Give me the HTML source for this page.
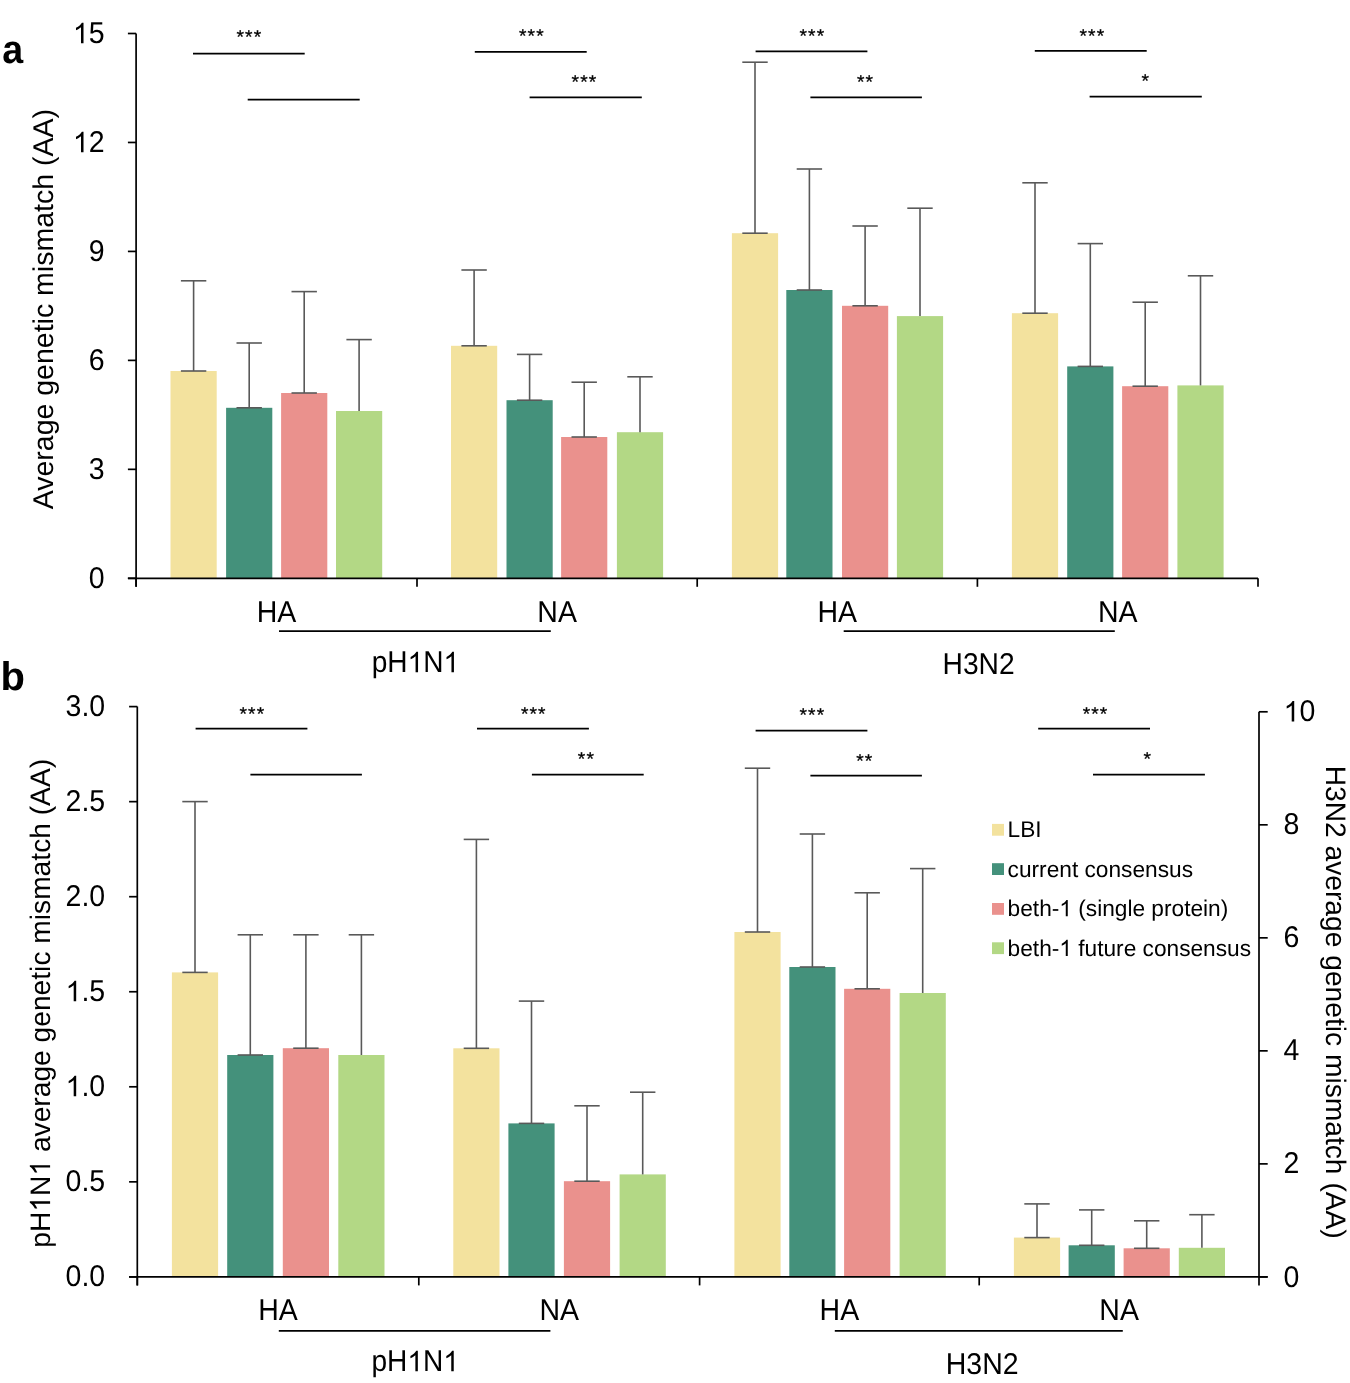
<!DOCTYPE html>
<html><head><meta charset="utf-8"><style>
html,body{margin:0;padding:0;background:#fff;}
body{width:1350px;height:1383px;overflow:hidden;font-family:"Liberation Sans",sans-serif;}
svg{display:block;will-change:transform;}
text{text-rendering:geometricPrecision;}
</style></head><body>
<svg width="1350" height="1383" viewBox="0 0 1350 1383" font-family='"Liberation Sans", sans-serif'>
<rect width="1350" height="1383" fill="#fff"/>
<rect x="170.50" y="371.00" width="46.20" height="207.30" fill="#F3E29E"/>
<rect x="226.10" y="407.80" width="46.20" height="170.50" fill="#44917B"/>
<rect x="281.10" y="393.00" width="46.20" height="185.30" fill="#EA918D"/>
<rect x="336.00" y="411.00" width="46.20" height="167.30" fill="#B3D885"/>
<rect x="451.00" y="345.80" width="46.20" height="232.50" fill="#F3E29E"/>
<rect x="506.50" y="400.20" width="46.20" height="178.10" fill="#44917B"/>
<rect x="561.10" y="437.00" width="46.20" height="141.30" fill="#EA918D"/>
<rect x="616.90" y="432.20" width="46.20" height="146.10" fill="#B3D885"/>
<rect x="731.90" y="233.20" width="46.20" height="345.10" fill="#F3E29E"/>
<rect x="786.30" y="290.00" width="46.20" height="288.30" fill="#44917B"/>
<rect x="842.00" y="305.80" width="46.20" height="272.50" fill="#EA918D"/>
<rect x="896.90" y="316.10" width="46.20" height="262.20" fill="#B3D885"/>
<rect x="1011.90" y="313.20" width="46.20" height="265.10" fill="#F3E29E"/>
<rect x="1067.20" y="366.40" width="46.20" height="211.90" fill="#44917B"/>
<rect x="1122.10" y="386.20" width="46.20" height="192.10" fill="#EA918D"/>
<rect x="1177.40" y="385.40" width="46.20" height="192.90" fill="#B3D885"/>
<line x1="193.60" y1="280.80" x2="193.60" y2="371.00" stroke="#595959" stroke-width="1.6"/>
<line x1="180.90" y1="280.80" x2="206.30" y2="280.80" stroke="#595959" stroke-width="1.6"/>
<line x1="180.90" y1="371.00" x2="206.30" y2="371.00" stroke="#595959" stroke-width="1.6"/>
<line x1="249.20" y1="343.00" x2="249.20" y2="407.80" stroke="#595959" stroke-width="1.6"/>
<line x1="236.50" y1="343.00" x2="261.90" y2="343.00" stroke="#595959" stroke-width="1.6"/>
<line x1="236.50" y1="407.80" x2="261.90" y2="407.80" stroke="#595959" stroke-width="1.6"/>
<line x1="304.20" y1="291.60" x2="304.20" y2="393.00" stroke="#595959" stroke-width="1.6"/>
<line x1="291.50" y1="291.60" x2="316.90" y2="291.60" stroke="#595959" stroke-width="1.6"/>
<line x1="291.50" y1="393.00" x2="316.90" y2="393.00" stroke="#595959" stroke-width="1.6"/>
<line x1="359.10" y1="339.60" x2="359.10" y2="411.00" stroke="#595959" stroke-width="1.6"/>
<line x1="346.40" y1="339.60" x2="371.80" y2="339.60" stroke="#595959" stroke-width="1.6"/>
<line x1="474.10" y1="270.00" x2="474.10" y2="345.80" stroke="#595959" stroke-width="1.6"/>
<line x1="461.40" y1="270.00" x2="486.80" y2="270.00" stroke="#595959" stroke-width="1.6"/>
<line x1="461.40" y1="345.80" x2="486.80" y2="345.80" stroke="#595959" stroke-width="1.6"/>
<line x1="529.60" y1="354.40" x2="529.60" y2="400.20" stroke="#595959" stroke-width="1.6"/>
<line x1="516.90" y1="354.40" x2="542.30" y2="354.40" stroke="#595959" stroke-width="1.6"/>
<line x1="516.90" y1="400.20" x2="542.30" y2="400.20" stroke="#595959" stroke-width="1.6"/>
<line x1="584.20" y1="382.20" x2="584.20" y2="437.00" stroke="#595959" stroke-width="1.6"/>
<line x1="571.50" y1="382.20" x2="596.90" y2="382.20" stroke="#595959" stroke-width="1.6"/>
<line x1="571.50" y1="437.00" x2="596.90" y2="437.00" stroke="#595959" stroke-width="1.6"/>
<line x1="640.00" y1="376.80" x2="640.00" y2="432.20" stroke="#595959" stroke-width="1.6"/>
<line x1="627.30" y1="376.80" x2="652.70" y2="376.80" stroke="#595959" stroke-width="1.6"/>
<line x1="755.00" y1="62.20" x2="755.00" y2="233.20" stroke="#595959" stroke-width="1.6"/>
<line x1="742.30" y1="62.20" x2="767.70" y2="62.20" stroke="#595959" stroke-width="1.6"/>
<line x1="742.30" y1="233.20" x2="767.70" y2="233.20" stroke="#595959" stroke-width="1.6"/>
<line x1="809.40" y1="169.00" x2="809.40" y2="290.00" stroke="#595959" stroke-width="1.6"/>
<line x1="796.70" y1="169.00" x2="822.10" y2="169.00" stroke="#595959" stroke-width="1.6"/>
<line x1="796.70" y1="290.00" x2="822.10" y2="290.00" stroke="#595959" stroke-width="1.6"/>
<line x1="865.10" y1="226.00" x2="865.10" y2="305.80" stroke="#595959" stroke-width="1.6"/>
<line x1="852.40" y1="226.00" x2="877.80" y2="226.00" stroke="#595959" stroke-width="1.6"/>
<line x1="852.40" y1="305.80" x2="877.80" y2="305.80" stroke="#595959" stroke-width="1.6"/>
<line x1="920.00" y1="208.20" x2="920.00" y2="316.10" stroke="#595959" stroke-width="1.6"/>
<line x1="907.30" y1="208.20" x2="932.70" y2="208.20" stroke="#595959" stroke-width="1.6"/>
<line x1="1035.00" y1="182.80" x2="1035.00" y2="313.20" stroke="#595959" stroke-width="1.6"/>
<line x1="1022.30" y1="182.80" x2="1047.70" y2="182.80" stroke="#595959" stroke-width="1.6"/>
<line x1="1022.30" y1="313.20" x2="1047.70" y2="313.20" stroke="#595959" stroke-width="1.6"/>
<line x1="1090.30" y1="243.60" x2="1090.30" y2="366.40" stroke="#595959" stroke-width="1.6"/>
<line x1="1077.60" y1="243.60" x2="1103.00" y2="243.60" stroke="#595959" stroke-width="1.6"/>
<line x1="1077.60" y1="366.40" x2="1103.00" y2="366.40" stroke="#595959" stroke-width="1.6"/>
<line x1="1145.20" y1="302.20" x2="1145.20" y2="386.20" stroke="#595959" stroke-width="1.6"/>
<line x1="1132.50" y1="302.20" x2="1157.90" y2="302.20" stroke="#595959" stroke-width="1.6"/>
<line x1="1132.50" y1="386.20" x2="1157.90" y2="386.20" stroke="#595959" stroke-width="1.6"/>
<line x1="1200.50" y1="275.80" x2="1200.50" y2="385.40" stroke="#595959" stroke-width="1.6"/>
<line x1="1187.80" y1="275.80" x2="1213.20" y2="275.80" stroke="#595959" stroke-width="1.6"/>
<line x1="136.10" y1="33.50" x2="136.10" y2="586.80" stroke="#000" stroke-width="1.7"/>
<line x1="127.90" y1="578.30" x2="136.10" y2="578.30" stroke="#000" stroke-width="1.7"/>
<text transform="translate(104.60,588.00) scale(1.0,1.055)" font-size="28.5" text-anchor="end" fill="#000">0</text>
<line x1="127.90" y1="469.34" x2="136.10" y2="469.34" stroke="#000" stroke-width="1.7"/>
<text transform="translate(104.60,479.04) scale(1.0,1.055)" font-size="28.5" text-anchor="end" fill="#000">3</text>
<line x1="127.90" y1="360.38" x2="136.10" y2="360.38" stroke="#000" stroke-width="1.7"/>
<text transform="translate(104.60,370.08) scale(1.0,1.055)" font-size="28.5" text-anchor="end" fill="#000">6</text>
<line x1="127.90" y1="251.42" x2="136.10" y2="251.42" stroke="#000" stroke-width="1.7"/>
<text transform="translate(104.60,261.12) scale(1.0,1.055)" font-size="28.5" text-anchor="end" fill="#000">9</text>
<line x1="127.90" y1="142.46" x2="136.10" y2="142.46" stroke="#000" stroke-width="1.7"/>
<text id="t1_0" transform="translate(104.60,152.16) scale(1.0,1.055)" font-size="28.5" text-anchor="end" fill="#000">12</text>
<line x1="127.90" y1="33.50" x2="136.10" y2="33.50" stroke="#000" stroke-width="1.7"/>
<text id="t1_1" transform="translate(104.60,43.20) scale(1.0,1.055)" font-size="28.5" text-anchor="end" fill="#000">15</text>
<line x1="127.90" y1="578.30" x2="1258.00" y2="578.30" stroke="#000" stroke-width="1.7"/>
<line x1="136.10" y1="578.30" x2="136.10" y2="586.80" stroke="#000" stroke-width="1.7"/>
<line x1="417.00" y1="578.30" x2="417.00" y2="586.80" stroke="#000" stroke-width="1.7"/>
<line x1="697.20" y1="578.30" x2="697.20" y2="586.80" stroke="#000" stroke-width="1.7"/>
<line x1="977.40" y1="578.30" x2="977.40" y2="586.80" stroke="#000" stroke-width="1.7"/>
<line x1="1258.00" y1="578.30" x2="1258.00" y2="586.80" stroke="#000" stroke-width="1.7"/>
<text transform="translate(276.55,622.40) scale(1.0,1.055)" font-size="28.5" text-anchor="middle" fill="#000">HA</text>
<text transform="translate(557.10,622.40) scale(1.0,1.055)" font-size="28.5" text-anchor="middle" fill="#000">NA</text>
<text transform="translate(837.30,622.40) scale(1.0,1.055)" font-size="28.5" text-anchor="middle" fill="#000">HA</text>
<text transform="translate(1117.70,622.40) scale(1.0,1.055)" font-size="28.5" text-anchor="middle" fill="#000">NA</text>
<line x1="279.00" y1="631.10" x2="550.80" y2="631.10" stroke="#000" stroke-width="1.7"/>
<line x1="843.70" y1="631.10" x2="1114.80" y2="631.10" stroke="#000" stroke-width="1.7"/>
<text id="t1_2" transform="translate(415.40,672.30) scale(0.985,1.055)" font-size="28.5" text-anchor="middle" fill="#000">pH1N1</text>
<text transform="translate(978.60,674.30) scale(0.99,1.055)" font-size="28.5" text-anchor="middle" fill="#000">H3N2</text>
<text transform="translate(53.00,309.20) rotate(-90)" font-size="28.5" text-anchor="middle" fill="#000">Average genetic mismatch (AA)</text>
<text transform="translate(2.20,63.40) scale(0.94,1.0)" font-size="40" text-anchor="start" font-weight="bold" fill="#000">a</text>
<line x1="193.00" y1="53.60" x2="304.70" y2="53.60" stroke="#000" stroke-width="1.8"/>
<text transform="translate(240.25,43.18) scale(1.0,0.96)" font-size="19.2" text-anchor="middle" fill="#000" stroke="#000" stroke-width="0.3">*</text>
<text transform="translate(248.85,43.18) scale(1.0,0.96)" font-size="19.2" text-anchor="middle" fill="#000" stroke="#000" stroke-width="0.3">*</text>
<text transform="translate(257.45,43.18) scale(1.0,0.96)" font-size="19.2" text-anchor="middle" fill="#000" stroke="#000" stroke-width="0.3">*</text>
<line x1="247.70" y1="99.60" x2="359.70" y2="99.60" stroke="#000" stroke-width="1.8"/>
<line x1="474.80" y1="51.90" x2="586.70" y2="51.90" stroke="#000" stroke-width="1.8"/>
<text transform="translate(522.70,42.18) scale(1.0,0.96)" font-size="19.2" text-anchor="middle" fill="#000" stroke="#000" stroke-width="0.3">*</text>
<text transform="translate(531.30,42.18) scale(1.0,0.96)" font-size="19.2" text-anchor="middle" fill="#000" stroke="#000" stroke-width="0.3">*</text>
<text transform="translate(539.90,42.18) scale(1.0,0.96)" font-size="19.2" text-anchor="middle" fill="#000" stroke="#000" stroke-width="0.3">*</text>
<line x1="529.60" y1="97.30" x2="641.80" y2="97.30" stroke="#000" stroke-width="1.8"/>
<text transform="translate(575.30,87.78) scale(1.0,0.96)" font-size="19.2" text-anchor="middle" fill="#000" stroke="#000" stroke-width="0.3">*</text>
<text transform="translate(583.90,87.78) scale(1.0,0.96)" font-size="19.2" text-anchor="middle" fill="#000" stroke="#000" stroke-width="0.3">*</text>
<text transform="translate(592.50,87.78) scale(1.0,0.96)" font-size="19.2" text-anchor="middle" fill="#000" stroke="#000" stroke-width="0.3">*</text>
<line x1="755.60" y1="51.40" x2="867.40" y2="51.40" stroke="#000" stroke-width="1.8"/>
<text transform="translate(803.25,41.88) scale(1.0,0.96)" font-size="19.2" text-anchor="middle" fill="#000" stroke="#000" stroke-width="0.3">*</text>
<text transform="translate(811.85,41.88) scale(1.0,0.96)" font-size="19.2" text-anchor="middle" fill="#000" stroke="#000" stroke-width="0.3">*</text>
<text transform="translate(820.45,41.88) scale(1.0,0.96)" font-size="19.2" text-anchor="middle" fill="#000" stroke="#000" stroke-width="0.3">*</text>
<line x1="810.40" y1="97.30" x2="921.90" y2="97.30" stroke="#000" stroke-width="1.8"/>
<text transform="translate(860.65,87.78) scale(1.0,0.96)" font-size="19.2" text-anchor="middle" fill="#000" stroke="#000" stroke-width="0.3">*</text>
<text transform="translate(869.25,87.78) scale(1.0,0.96)" font-size="19.2" text-anchor="middle" fill="#000" stroke="#000" stroke-width="0.3">*</text>
<line x1="1034.80" y1="50.80" x2="1146.70" y2="50.80" stroke="#000" stroke-width="1.8"/>
<text transform="translate(1083.25,41.88) scale(1.0,0.96)" font-size="19.2" text-anchor="middle" fill="#000" stroke="#000" stroke-width="0.3">*</text>
<text transform="translate(1091.85,41.88) scale(1.0,0.96)" font-size="19.2" text-anchor="middle" fill="#000" stroke="#000" stroke-width="0.3">*</text>
<text transform="translate(1100.45,41.88) scale(1.0,0.96)" font-size="19.2" text-anchor="middle" fill="#000" stroke="#000" stroke-width="0.3">*</text>
<line x1="1089.60" y1="96.70" x2="1201.80" y2="96.70" stroke="#000" stroke-width="1.8"/>
<text transform="translate(1145.25,87.18) scale(1.0,0.96)" font-size="19.2" text-anchor="middle" fill="#000" stroke="#000" stroke-width="0.3">*</text>
<rect x="171.90" y="972.40" width="46.20" height="304.50" fill="#F3E29E"/>
<rect x="227.20" y="1055.00" width="46.20" height="221.90" fill="#44917B"/>
<rect x="282.80" y="1048.20" width="46.20" height="228.70" fill="#EA918D"/>
<rect x="338.30" y="1055.00" width="46.20" height="221.90" fill="#B3D885"/>
<rect x="453.30" y="1048.30" width="46.20" height="228.60" fill="#F3E29E"/>
<rect x="508.40" y="1123.40" width="46.20" height="153.50" fill="#44917B"/>
<rect x="563.90" y="1181.20" width="46.20" height="95.70" fill="#EA918D"/>
<rect x="619.60" y="1174.40" width="46.20" height="102.50" fill="#B3D885"/>
<rect x="734.40" y="932.00" width="46.20" height="344.90" fill="#F3E29E"/>
<rect x="789.30" y="967.00" width="46.20" height="309.90" fill="#44917B"/>
<rect x="844.10" y="988.80" width="46.20" height="288.10" fill="#EA918D"/>
<rect x="899.60" y="993.00" width="46.20" height="283.90" fill="#B3D885"/>
<rect x="1013.90" y="1237.60" width="46.20" height="39.30" fill="#F3E29E"/>
<rect x="1068.60" y="1245.30" width="46.20" height="31.60" fill="#44917B"/>
<rect x="1123.60" y="1248.30" width="46.20" height="28.60" fill="#EA918D"/>
<rect x="1178.80" y="1247.80" width="46.20" height="29.10" fill="#B3D885"/>
<line x1="195.00" y1="801.60" x2="195.00" y2="972.40" stroke="#595959" stroke-width="1.6"/>
<line x1="182.30" y1="801.60" x2="207.70" y2="801.60" stroke="#595959" stroke-width="1.6"/>
<line x1="182.30" y1="972.40" x2="207.70" y2="972.40" stroke="#595959" stroke-width="1.6"/>
<line x1="250.30" y1="934.80" x2="250.30" y2="1055.00" stroke="#595959" stroke-width="1.6"/>
<line x1="237.60" y1="934.80" x2="263.00" y2="934.80" stroke="#595959" stroke-width="1.6"/>
<line x1="237.60" y1="1055.00" x2="263.00" y2="1055.00" stroke="#595959" stroke-width="1.6"/>
<line x1="305.90" y1="934.80" x2="305.90" y2="1048.20" stroke="#595959" stroke-width="1.6"/>
<line x1="293.20" y1="934.80" x2="318.60" y2="934.80" stroke="#595959" stroke-width="1.6"/>
<line x1="293.20" y1="1048.20" x2="318.60" y2="1048.20" stroke="#595959" stroke-width="1.6"/>
<line x1="361.40" y1="934.80" x2="361.40" y2="1055.00" stroke="#595959" stroke-width="1.6"/>
<line x1="348.70" y1="934.80" x2="374.10" y2="934.80" stroke="#595959" stroke-width="1.6"/>
<line x1="476.40" y1="839.40" x2="476.40" y2="1048.30" stroke="#595959" stroke-width="1.6"/>
<line x1="463.70" y1="839.40" x2="489.10" y2="839.40" stroke="#595959" stroke-width="1.6"/>
<line x1="463.70" y1="1048.30" x2="489.10" y2="1048.30" stroke="#595959" stroke-width="1.6"/>
<line x1="531.50" y1="1001.10" x2="531.50" y2="1123.40" stroke="#595959" stroke-width="1.6"/>
<line x1="518.80" y1="1001.10" x2="544.20" y2="1001.10" stroke="#595959" stroke-width="1.6"/>
<line x1="518.80" y1="1123.40" x2="544.20" y2="1123.40" stroke="#595959" stroke-width="1.6"/>
<line x1="587.00" y1="1105.80" x2="587.00" y2="1181.20" stroke="#595959" stroke-width="1.6"/>
<line x1="574.30" y1="1105.80" x2="599.70" y2="1105.80" stroke="#595959" stroke-width="1.6"/>
<line x1="574.30" y1="1181.20" x2="599.70" y2="1181.20" stroke="#595959" stroke-width="1.6"/>
<line x1="642.70" y1="1092.20" x2="642.70" y2="1174.40" stroke="#595959" stroke-width="1.6"/>
<line x1="630.00" y1="1092.20" x2="655.40" y2="1092.20" stroke="#595959" stroke-width="1.6"/>
<line x1="757.50" y1="768.20" x2="757.50" y2="932.00" stroke="#595959" stroke-width="1.6"/>
<line x1="744.80" y1="768.20" x2="770.20" y2="768.20" stroke="#595959" stroke-width="1.6"/>
<line x1="744.80" y1="932.00" x2="770.20" y2="932.00" stroke="#595959" stroke-width="1.6"/>
<line x1="812.40" y1="834.00" x2="812.40" y2="967.00" stroke="#595959" stroke-width="1.6"/>
<line x1="799.70" y1="834.00" x2="825.10" y2="834.00" stroke="#595959" stroke-width="1.6"/>
<line x1="799.70" y1="967.00" x2="825.10" y2="967.00" stroke="#595959" stroke-width="1.6"/>
<line x1="867.20" y1="892.80" x2="867.20" y2="988.80" stroke="#595959" stroke-width="1.6"/>
<line x1="854.50" y1="892.80" x2="879.90" y2="892.80" stroke="#595959" stroke-width="1.6"/>
<line x1="854.50" y1="988.80" x2="879.90" y2="988.80" stroke="#595959" stroke-width="1.6"/>
<line x1="922.70" y1="868.60" x2="922.70" y2="993.00" stroke="#595959" stroke-width="1.6"/>
<line x1="910.00" y1="868.60" x2="935.40" y2="868.60" stroke="#595959" stroke-width="1.6"/>
<line x1="1037.00" y1="1203.90" x2="1037.00" y2="1237.60" stroke="#595959" stroke-width="1.6"/>
<line x1="1024.30" y1="1203.90" x2="1049.70" y2="1203.90" stroke="#595959" stroke-width="1.6"/>
<line x1="1024.30" y1="1237.60" x2="1049.70" y2="1237.60" stroke="#595959" stroke-width="1.6"/>
<line x1="1091.70" y1="1209.90" x2="1091.70" y2="1245.30" stroke="#595959" stroke-width="1.6"/>
<line x1="1079.00" y1="1209.90" x2="1104.40" y2="1209.90" stroke="#595959" stroke-width="1.6"/>
<line x1="1079.00" y1="1245.30" x2="1104.40" y2="1245.30" stroke="#595959" stroke-width="1.6"/>
<line x1="1146.70" y1="1220.80" x2="1146.70" y2="1248.30" stroke="#595959" stroke-width="1.6"/>
<line x1="1134.00" y1="1220.80" x2="1159.40" y2="1220.80" stroke="#595959" stroke-width="1.6"/>
<line x1="1134.00" y1="1248.30" x2="1159.40" y2="1248.30" stroke="#595959" stroke-width="1.6"/>
<line x1="1201.90" y1="1214.70" x2="1201.90" y2="1247.80" stroke="#595959" stroke-width="1.6"/>
<line x1="1189.20" y1="1214.70" x2="1214.60" y2="1214.70" stroke="#595959" stroke-width="1.6"/>
<line x1="137.30" y1="706.60" x2="137.30" y2="1285.40" stroke="#000" stroke-width="1.7"/>
<line x1="129.10" y1="1276.90" x2="137.30" y2="1276.90" stroke="#000" stroke-width="1.7"/>
<text transform="translate(105.20,1286.40) scale(1.0,1.055)" font-size="28.5" text-anchor="end" fill="#000">0.0</text>
<line x1="129.10" y1="1181.85" x2="137.30" y2="1181.85" stroke="#000" stroke-width="1.7"/>
<text transform="translate(105.20,1191.35) scale(1.0,1.055)" font-size="28.5" text-anchor="end" fill="#000">0.5</text>
<line x1="129.10" y1="1086.80" x2="137.30" y2="1086.80" stroke="#000" stroke-width="1.7"/>
<text id="t1_3" transform="translate(105.20,1096.30) scale(1.0,1.055)" font-size="28.5" text-anchor="end" fill="#000">1.0</text>
<line x1="129.10" y1="991.75" x2="137.30" y2="991.75" stroke="#000" stroke-width="1.7"/>
<text id="t1_4" transform="translate(105.20,1001.25) scale(1.0,1.055)" font-size="28.5" text-anchor="end" fill="#000">1.5</text>
<line x1="129.10" y1="896.70" x2="137.30" y2="896.70" stroke="#000" stroke-width="1.7"/>
<text transform="translate(105.20,906.20) scale(1.0,1.055)" font-size="28.5" text-anchor="end" fill="#000">2.0</text>
<line x1="129.10" y1="801.65" x2="137.30" y2="801.65" stroke="#000" stroke-width="1.7"/>
<text transform="translate(105.20,811.15) scale(1.0,1.055)" font-size="28.5" text-anchor="end" fill="#000">2.5</text>
<line x1="129.10" y1="706.60" x2="137.30" y2="706.60" stroke="#000" stroke-width="1.7"/>
<text transform="translate(105.20,716.10) scale(1.0,1.055)" font-size="28.5" text-anchor="end" fill="#000">3.0</text>
<line x1="129.10" y1="1276.90" x2="1267.70" y2="1276.90" stroke="#000" stroke-width="1.7"/>
<line x1="137.30" y1="1276.90" x2="137.30" y2="1285.40" stroke="#000" stroke-width="1.7"/>
<line x1="418.80" y1="1276.90" x2="418.80" y2="1285.40" stroke="#000" stroke-width="1.7"/>
<line x1="699.60" y1="1276.90" x2="699.60" y2="1285.40" stroke="#000" stroke-width="1.7"/>
<line x1="979.20" y1="1276.90" x2="979.20" y2="1285.40" stroke="#000" stroke-width="1.7"/>
<line x1="1259.00" y1="1276.90" x2="1259.00" y2="1285.40" stroke="#000" stroke-width="1.7"/>
<line x1="1259.00" y1="711.80" x2="1259.00" y2="1276.90" stroke="#000" stroke-width="1.7"/>
<line x1="1259.00" y1="1276.90" x2="1267.70" y2="1276.90" stroke="#000" stroke-width="1.7"/>
<text transform="translate(1283.60,1286.50) scale(1.0,1.055)" font-size="28.5" text-anchor="start" fill="#000">0</text>
<line x1="1259.00" y1="1163.88" x2="1267.70" y2="1163.88" stroke="#000" stroke-width="1.7"/>
<text transform="translate(1283.60,1173.48) scale(1.0,1.055)" font-size="28.5" text-anchor="start" fill="#000">2</text>
<line x1="1259.00" y1="1050.86" x2="1267.70" y2="1050.86" stroke="#000" stroke-width="1.7"/>
<text transform="translate(1283.60,1060.46) scale(1.0,1.055)" font-size="28.5" text-anchor="start" fill="#000">4</text>
<line x1="1259.00" y1="937.84" x2="1267.70" y2="937.84" stroke="#000" stroke-width="1.7"/>
<text transform="translate(1283.60,947.44) scale(1.0,1.055)" font-size="28.5" text-anchor="start" fill="#000">6</text>
<line x1="1259.00" y1="824.82" x2="1267.70" y2="824.82" stroke="#000" stroke-width="1.7"/>
<text transform="translate(1283.60,834.42) scale(1.0,1.055)" font-size="28.5" text-anchor="start" fill="#000">8</text>
<line x1="1259.00" y1="711.80" x2="1267.70" y2="711.80" stroke="#000" stroke-width="1.7"/>
<text id="t1_5" transform="translate(1283.60,721.40) scale(1.0,1.055)" font-size="28.5" text-anchor="start" fill="#000">10</text>
<text transform="translate(278.05,1320.30) scale(1.0,1.055)" font-size="28.5" text-anchor="middle" fill="#000">HA</text>
<text transform="translate(559.20,1320.30) scale(1.0,1.055)" font-size="28.5" text-anchor="middle" fill="#000">NA</text>
<text transform="translate(839.40,1320.30) scale(1.0,1.055)" font-size="28.5" text-anchor="middle" fill="#000">HA</text>
<text transform="translate(1119.10,1320.30) scale(1.0,1.055)" font-size="28.5" text-anchor="middle" fill="#000">NA</text>
<line x1="278.80" y1="1330.80" x2="550.40" y2="1330.80" stroke="#000" stroke-width="1.7"/>
<line x1="834.80" y1="1330.80" x2="1122.80" y2="1330.80" stroke="#000" stroke-width="1.7"/>
<text id="t1_6" transform="translate(415.20,1371.30) scale(0.985,1.055)" font-size="28.5" text-anchor="middle" fill="#000">pH1N1</text>
<text transform="translate(982.20,1374.10) scale(1.0,1.055)" font-size="28.5" text-anchor="middle" fill="#000">H3N2</text>
<text id="t1_7" transform="translate(50.10,1003.30) rotate(-90)" font-size="28.2" text-anchor="middle" fill="#000">pH1N1 average genetic mismatch (AA)</text>
<text transform="translate(1326.20,1002.20) rotate(90)" font-size="28.2" text-anchor="middle" fill="#000">H3N2 average genetic mismatch (AA)</text>
<text transform="translate(0.40,690.30)" font-size="40" text-anchor="start" font-weight="bold" fill="#000">b</text>
<line x1="195.60" y1="728.60" x2="307.40" y2="728.60" stroke="#000" stroke-width="1.8"/>
<text transform="translate(243.25,719.58) scale(1.0,0.96)" font-size="19.2" text-anchor="middle" fill="#000" stroke="#000" stroke-width="0.3">*</text>
<text transform="translate(251.85,719.58) scale(1.0,0.96)" font-size="19.2" text-anchor="middle" fill="#000" stroke="#000" stroke-width="0.3">*</text>
<text transform="translate(260.45,719.58) scale(1.0,0.96)" font-size="19.2" text-anchor="middle" fill="#000" stroke="#000" stroke-width="0.3">*</text>
<line x1="250.40" y1="774.60" x2="361.90" y2="774.60" stroke="#000" stroke-width="1.8"/>
<line x1="477.00" y1="728.60" x2="588.90" y2="728.60" stroke="#000" stroke-width="1.8"/>
<text transform="translate(524.65,719.78) scale(1.0,0.96)" font-size="19.2" text-anchor="middle" fill="#000" stroke="#000" stroke-width="0.3">*</text>
<text transform="translate(533.25,719.78) scale(1.0,0.96)" font-size="19.2" text-anchor="middle" fill="#000" stroke="#000" stroke-width="0.3">*</text>
<text transform="translate(541.85,719.78) scale(1.0,0.96)" font-size="19.2" text-anchor="middle" fill="#000" stroke="#000" stroke-width="0.3">*</text>
<line x1="531.90" y1="774.60" x2="643.70" y2="774.60" stroke="#000" stroke-width="1.8"/>
<text transform="translate(581.60,765.18) scale(1.0,0.96)" font-size="19.2" text-anchor="middle" fill="#000" stroke="#000" stroke-width="0.3">*</text>
<text transform="translate(590.20,765.18) scale(1.0,0.96)" font-size="19.2" text-anchor="middle" fill="#000" stroke="#000" stroke-width="0.3">*</text>
<line x1="755.60" y1="730.60" x2="867.40" y2="730.60" stroke="#000" stroke-width="1.8"/>
<text transform="translate(803.25,720.98) scale(1.0,0.96)" font-size="19.2" text-anchor="middle" fill="#000" stroke="#000" stroke-width="0.3">*</text>
<text transform="translate(811.85,720.98) scale(1.0,0.96)" font-size="19.2" text-anchor="middle" fill="#000" stroke="#000" stroke-width="0.3">*</text>
<text transform="translate(820.45,720.98) scale(1.0,0.96)" font-size="19.2" text-anchor="middle" fill="#000" stroke="#000" stroke-width="0.3">*</text>
<line x1="810.40" y1="775.70" x2="921.90" y2="775.70" stroke="#000" stroke-width="1.8"/>
<text transform="translate(860.00,766.98) scale(1.0,0.96)" font-size="19.2" text-anchor="middle" fill="#000" stroke="#000" stroke-width="0.3">*</text>
<text transform="translate(868.60,766.98) scale(1.0,0.96)" font-size="19.2" text-anchor="middle" fill="#000" stroke="#000" stroke-width="0.3">*</text>
<line x1="1038.20" y1="728.60" x2="1150.00" y2="728.60" stroke="#000" stroke-width="1.8"/>
<text transform="translate(1086.40,719.78) scale(1.0,0.96)" font-size="19.2" text-anchor="middle" fill="#000" stroke="#000" stroke-width="0.3">*</text>
<text transform="translate(1095.00,719.78) scale(1.0,0.96)" font-size="19.2" text-anchor="middle" fill="#000" stroke="#000" stroke-width="0.3">*</text>
<text transform="translate(1103.60,719.78) scale(1.0,0.96)" font-size="19.2" text-anchor="middle" fill="#000" stroke="#000" stroke-width="0.3">*</text>
<line x1="1093.00" y1="774.60" x2="1204.90" y2="774.60" stroke="#000" stroke-width="1.8"/>
<text transform="translate(1147.35,764.98) scale(1.0,0.96)" font-size="19.2" text-anchor="middle" fill="#000" stroke="#000" stroke-width="0.3">*</text>
<rect x="992.00" y="823.90" width="12.00" height="11.80" fill="#F3E29E"/>
<text transform="translate(1007.60,837.00)" font-size="22.7" text-anchor="start" fill="#000">LBI</text>
<rect x="992.00" y="863.20" width="12.00" height="11.80" fill="#44917B"/>
<text transform="translate(1007.60,876.90)" font-size="22.7" text-anchor="start" fill="#000">current consensus</text>
<rect x="992.00" y="903.00" width="12.00" height="11.80" fill="#EA918D"/>
<text id="t1_8" transform="translate(1007.60,916.30)" font-size="22.7" text-anchor="start" fill="#000">beth-1 (single protein)</text>
<rect x="992.00" y="942.30" width="12.00" height="11.80" fill="#B3D885"/>
<text id="t1_9" transform="translate(1007.60,956.00)" font-size="22.7" text-anchor="start" fill="#000">beth-1 future consensus</text>
<g transform="translate(104.60,152.16) scale(1.0,1.055)"><rect x="-30.83" y="-20.51" width="14.59" height="21.71" fill="#fff" shape-rendering="crispEdges"/><path d="M-21.09,0.00L-23.59,0.00L-23.59,-15.13Q-24.49,-14.31 -25.97,-13.49Q-27.44,-12.68 -28.61,-12.27L-28.61,-14.56Q-26.51,-15.50 -24.94,-16.83Q-23.37,-18.16 -22.71,-19.42L-21.09,-19.42Z" fill="#000"/></g>
<g transform="translate(104.60,43.20) scale(1.0,1.055)"><rect x="-30.83" y="-20.51" width="14.59" height="21.71" fill="#fff" shape-rendering="crispEdges"/><path d="M-21.09,0.00L-23.59,0.00L-23.59,-15.13Q-24.49,-14.31 -25.97,-13.49Q-27.44,-12.68 -28.61,-12.27L-28.61,-14.56Q-26.51,-15.50 -24.94,-16.83Q-23.37,-18.16 -22.71,-19.42L-21.09,-19.42Z" fill="#000"/></g>
<g transform="translate(415.40,672.30) scale(0.985,1.055)"><rect x="-7.07" y="-20.51" width="14.59" height="21.71" fill="#fff" shape-rendering="crispEdges"/><path d="M2.68,0.00L0.18,0.00L0.18,-15.13Q-0.73,-14.31 -2.20,-13.49Q-3.68,-12.68 -4.85,-12.27L-4.85,-14.56Q-2.75,-15.50 -1.17,-16.83Q0.40,-18.16 1.05,-19.42L2.68,-19.42Z" fill="#000"/></g>
<g transform="translate(415.40,672.30) scale(0.985,1.055)"><rect x="29.37" y="-20.51" width="14.59" height="21.71" fill="#fff" shape-rendering="crispEdges"/><path d="M39.12,0.00L36.61,0.00L36.61,-15.13Q35.71,-14.31 34.23,-13.49Q32.76,-12.68 31.59,-12.27L31.59,-14.56Q33.69,-15.50 35.26,-16.83Q36.84,-18.16 37.49,-19.42L39.12,-19.42Z" fill="#000"/></g>
<g transform="translate(105.20,1096.30) scale(1.0,1.055)"><rect x="-38.75" y="-20.51" width="14.59" height="21.71" fill="#fff" shape-rendering="crispEdges"/><path d="M-29.01,0.00L-31.51,0.00L-31.51,-15.13Q-32.42,-14.31 -33.89,-13.49Q-35.37,-12.68 -36.54,-12.27L-36.54,-14.56Q-34.43,-15.50 -32.86,-16.83Q-31.29,-18.16 -30.64,-19.42L-29.01,-19.42Z" fill="#000"/></g>
<g transform="translate(105.20,1001.25) scale(1.0,1.055)"><rect x="-38.75" y="-20.51" width="14.59" height="21.71" fill="#fff" shape-rendering="crispEdges"/><path d="M-29.01,0.00L-31.51,0.00L-31.51,-15.13Q-32.42,-14.31 -33.89,-13.49Q-35.37,-12.68 -36.54,-12.27L-36.54,-14.56Q-34.43,-15.50 -32.86,-16.83Q-31.29,-18.16 -30.64,-19.42L-29.01,-19.42Z" fill="#000"/></g>
<g transform="translate(1283.60,721.40) scale(1.0,1.055)"><rect x="0.87" y="-20.51" width="14.59" height="21.71" fill="#fff" shape-rendering="crispEdges"/><path d="M10.62,0.00L8.11,0.00L8.11,-15.13Q7.21,-14.31 5.73,-13.49Q4.26,-12.68 3.09,-12.27L3.09,-14.56Q5.19,-15.50 6.76,-16.83Q8.34,-18.16 8.99,-19.42L10.62,-19.42Z" fill="#000"/></g>
<g transform="translate(415.20,1371.30) scale(0.985,1.055)"><rect x="-7.07" y="-20.51" width="14.59" height="21.71" fill="#fff" shape-rendering="crispEdges"/><path d="M2.68,0.00L0.18,0.00L0.18,-15.13Q-0.73,-14.31 -2.20,-13.49Q-3.68,-12.68 -4.85,-12.27L-4.85,-14.56Q-2.75,-15.50 -1.17,-16.83Q0.40,-18.16 1.05,-19.42L2.68,-19.42Z" fill="#000"/></g>
<g transform="translate(415.20,1371.30) scale(0.985,1.055)"><rect x="29.37" y="-20.51" width="14.59" height="21.71" fill="#fff" shape-rendering="crispEdges"/><path d="M39.12,0.00L36.61,0.00L36.61,-15.13Q35.71,-14.31 34.23,-13.49Q32.76,-12.68 31.59,-12.27L31.59,-14.56Q33.69,-15.50 35.26,-16.83Q36.84,-18.16 37.49,-19.42L39.12,-19.42Z" fill="#000"/></g>
<g transform="translate(50.10,1003.30) rotate(-90)"><rect x="-207.52" y="-20.30" width="14.46" height="21.50" fill="#fff" shape-rendering="crispEdges"/><path d="M-197.86,0.00L-200.34,0.00L-200.34,-15.79Q-201.23,-14.94 -202.69,-14.09Q-204.15,-13.23 -205.31,-12.81L-205.31,-15.20Q-203.23,-16.18 -201.68,-17.57Q-200.12,-18.96 -199.47,-20.27L-197.86,-20.27Z" fill="#000"/></g>
<g transform="translate(50.10,1003.30) rotate(-90)"><rect x="-171.49" y="-20.30" width="14.46" height="21.50" fill="#fff" shape-rendering="crispEdges"/><path d="M-161.83,0.00L-164.31,0.00L-164.31,-15.79Q-165.20,-14.94 -166.66,-14.09Q-168.12,-13.23 -169.28,-12.81L-169.28,-15.20Q-167.20,-16.18 -165.64,-17.57Q-164.09,-18.96 -163.44,-20.27L-161.83,-20.27Z" fill="#000"/></g>
<g transform="translate(1007.60,916.30)"><rect x="52.13" y="-16.49" width="12.09" height="17.69" fill="#fff" shape-rendering="crispEdges"/><path d="M60.16,0.00L58.17,0.00L58.17,-12.71Q57.44,-12.03 56.27,-11.34Q55.09,-10.65 54.16,-10.31L54.16,-12.24Q55.84,-13.02 57.09,-14.14Q58.34,-15.26 58.86,-16.32L60.16,-16.32Z" fill="#000"/></g>
<g transform="translate(1007.60,956.00)"><rect x="52.13" y="-16.49" width="12.09" height="17.69" fill="#fff" shape-rendering="crispEdges"/><path d="M60.16,0.00L58.17,0.00L58.17,-12.71Q57.44,-12.03 56.27,-11.34Q55.09,-10.65 54.16,-10.31L54.16,-12.24Q55.84,-13.02 57.09,-14.14Q58.34,-15.26 58.86,-16.32L60.16,-16.32Z" fill="#000"/></g>
</svg>
</body></html>
